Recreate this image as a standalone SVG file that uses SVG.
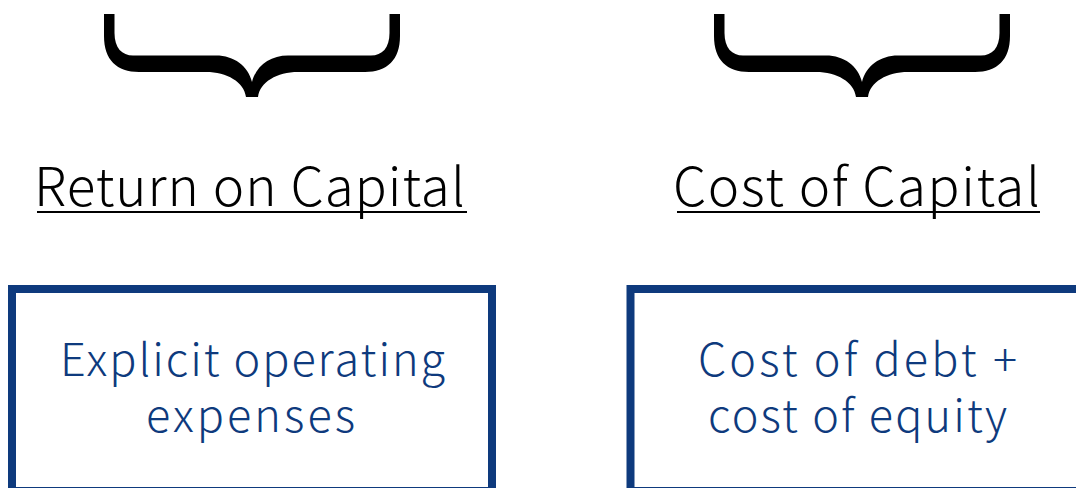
<svg xmlns="http://www.w3.org/2000/svg" width="1076" height="488" viewBox="0 0 1076 488">
  <style>
    .brace { fill: #000000; }
    .title { font-family: "Noto Sans CJK JP", "Noto Sans", sans-serif; font-size: 53px; font-weight: 300; fill: #000000; }
    .box { fill: #ffffff; stroke: #0e3a7d; stroke-width: 8; }
    .label { font-family: "Noto Sans CJK JP", "Noto Sans", sans-serif; font-size: 45px; font-weight: 300; fill: #0e3a7d; }
    .rule { stroke: #000000; stroke-width: 2; }
  </style>
  <defs>
    <!-- downward curly brace, centred on x=0, top at y=14 -->
    <path id="brace-shape" class="brace" d="M -148 14 L -148 36 C -148 60 -135 72 -113 72 L -46 72 C -25 72 -8 82 -6 97 L 6 97 C 8 82 25 72 46 72 L 113 72 C 135 72 148 60 148 36 L 148 14 L 137.5 14 L 137.5 33 C 137.5 48 130 55.5 119 55.5 L 36 55.5 C 18 55.5 4 66 0 82 C -4 66 -18 55.5 -36 55.5 L -119 55.5 C -130 55.5 -137.5 48 -137.5 33 L -137.5 14 Z"/>
  </defs>

  <g id="brace-return">
    <use href="#brace-shape" transform="translate(252 0)"/>
  </g>
  <g id="brace-cost">
    <use href="#brace-shape" transform="translate(862 0)"/>
  </g>

  <g id="title-return">
    <text class="title" x="34" y="206" textLength="431" lengthAdjust="spacing">Return on Capital</text>
    <line class="rule" x1="37" y1="212" x2="467" y2="212"/>
  </g>
  <g id="title-cost">
    <text class="title" x="673" y="206" textLength="367" lengthAdjust="spacing">Cost of Capital</text>
    <line class="rule" x1="677" y1="212" x2="1040" y2="212"/>
  </g>

  <g id="box-explicit">
    <rect class="box" x="12" y="289" width="480" height="202"/>
    <text class="label" x="60" y="376" textLength="385" lengthAdjust="spacing">Explicit operating</text>
    <text class="label" x="146" y="432" textLength="209" lengthAdjust="spacing">expenses</text>
  </g>
  <g id="box-capital">
    <rect class="box" x="630.5" y="289" width="480" height="202"/>
    <text class="label" x="698" y="376" textLength="319" lengthAdjust="spacing">Cost of debt +</text>
    <text class="label" x="708" y="432" textLength="299" lengthAdjust="spacing">cost of equity</text>
  </g>

  <g id="connectors"/>
</svg>
